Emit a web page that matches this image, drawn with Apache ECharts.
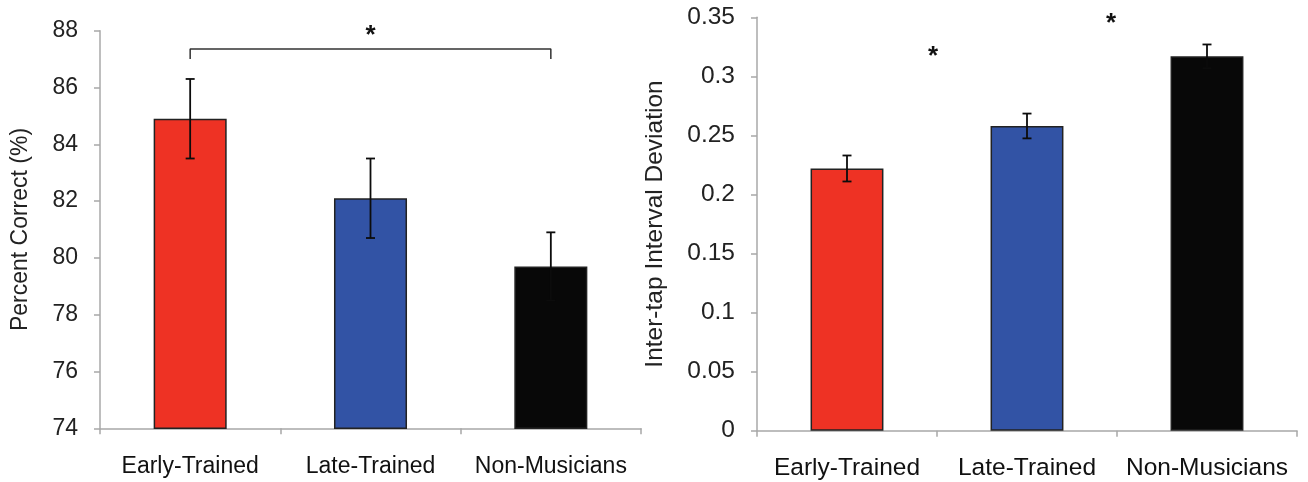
<!DOCTYPE html>
<html>
<head>
<meta charset="utf-8">
<style>
  html, body { margin: 0; padding: 0; background: #fff; }
  #chart { width: 1308px; height: 482px; }
</style>
<script src="https://cdn.jsdelivr.net/npm/echarts@6/dist/echarts.min.js"></script>
</head>
<body>
<div id="chart"></div>
<script>
// Groups shown on both panels
const categories = ['Early-Trained', 'Late-Trained', 'Non-Musicians'];
const barColors = ['#EE3224', '#3253A5', '#080808'];

// Left panel: percent correct (mean and standard error)
const accuracyMean = [84.9, 82.1, 79.7];
const accuracyErr = [1.4, 1.4, 1.2];

// Right panel: inter-tap interval deviation (mean and standard error)
const itiMean = [0.222, 0.258, 0.317];
const itiErr = [0.011, 0.0105, 0.010];

// Significance markers, placed on a 0..3 overlay axis (category i spans i..i+1)
const accuracyBracket = [[0.5, 87.0], [0.5, 87.36], [2.5, 87.36], [2.5, 87.0]];
const accuracyStars = [[1.5, 88.05]];
const itiStars = [[0.978, 0.3224], [1.967, 0.3505]];

const FONT = 'Liberation Sans, Arial, Helvetica, sans-serif';
const AXIS_GRAY = '#a8a8a8';
const LEFT_FONT = 23;
const RIGHT_FONT = 24.5;

const chart = echarts.init(document.getElementById('chart'), null, { renderer: 'canvas' });

function errorBarSeries(xAxisIndex, yAxisIndex, mean, err) {
  return {
    type: 'custom',
    xAxisIndex, yAxisIndex, z: 3,
    data: mean.map((m, i) => [i, m - err[i], m + err[i]]),
    renderItem(params, api) {
      const lo = api.coord([api.value(0), api.value(1)]);
      const hi = api.coord([api.value(0), api.value(2)]);
      const cap = 4.5;
      const style = { stroke: '#0c0c0c', lineWidth: 1.8 };
      return {
        type: 'group',
        children: [
          { type: 'line', shape: { x1: hi[0], y1: hi[1], x2: lo[0], y2: lo[1] }, style },
          { type: 'line', shape: { x1: hi[0] - cap, y1: hi[1], x2: hi[0] + cap, y2: hi[1] }, style },
          { type: 'line', shape: { x1: lo[0] - cap, y1: lo[1], x2: lo[0] + cap, y2: lo[1] }, style }
        ]
      };
    }
  };
}

function barSeries(xAxisIndex, yAxisIndex, mean) {
  return {
    type: 'bar',
    xAxisIndex, yAxisIndex,
    barWidth: '40.5%',
    data: mean.map((v, i) => ({
      value: v,
      itemStyle: { color: barColors[i], borderColor: '#222', borderWidth: 1.5 }
    })),
    z: 2
  };
}

// Asterisks drawn as text centred on their data point
function starSeries(xAxisIndex, yAxisIndex, points) {
  return {
    type: 'custom',
    xAxisIndex, yAxisIndex, z: 5,
    clip: false,
    data: points,
    renderItem(params, api) {
      const p = api.coord([api.value(0), api.value(1)]);
      return {
        type: 'text',
        x: p[0], y: p[1] + 7,
        style: {
          text: '*', fill: '#111',
          font: 'bold 26px ' + FONT,
          align: 'center', verticalAlign: 'middle'
        }
      };
    }
  };
}

function valueLabel(size) {
  return { color: '#222', fontFamily: FONT, fontSize: size, margin: 22 };
}

function catAxis(gridIndex, size, margin) {
  return {
    type: 'category', gridIndex, data: categories,
    axisLine: { lineStyle: { color: AXIS_GRAY, width: 1.5 } },
    axisTick: { show: true, length: 6, lineStyle: { color: AXIS_GRAY, width: 1.5 } },
    axisLabel: {
      color: '#111', fontFamily: FONT, fontSize: size, margin,
      interval: 0, hideOverlap: false
    }
  };
}

const option = {
  animation: false,
  backgroundColor: '#fff',
  grid: [
    { left: 100, top: 30.7, width: 541, height: 397.6 },
    { left: 757, top: 17.3, width: 540, height: 413.4 }
  ],
  xAxis: [
    catAxis(0, LEFT_FONT, 27),
    catAxis(1, RIGHT_FONT, 25),
    { type: 'value', gridIndex: 0, min: 0, max: 3, show: false },
    { type: 'value', gridIndex: 1, min: 0, max: 3, show: false }
  ],
  yAxis: [
    {
      type: 'value', gridIndex: 0, min: 74, max: 88, interval: 2,
      name: 'Percent Correct (%)', nameLocation: 'middle', nameGap: 68,
      nameTextStyle: { color: '#222', fontFamily: FONT, fontSize: LEFT_FONT },
      axisLine: { show: true, lineStyle: { color: AXIS_GRAY, width: 1.5 } },
      axisTick: { show: true, length: 6, lineStyle: { color: AXIS_GRAY, width: 1.5 } },
      axisLabel: valueLabel(LEFT_FONT),
      splitLine: { show: false }
    },
    {
      type: 'value', gridIndex: 1, min: 0, max: 0.35, interval: 0.05,
      name: 'Inter-tap Interval Deviation', nameLocation: 'middle', nameGap: 89,
      nameTextStyle: { color: '#222', fontFamily: FONT, fontSize: RIGHT_FONT },
      axisLine: { show: true, lineStyle: { color: AXIS_GRAY, width: 1.5 } },
      axisTick: { show: true, length: 6, lineStyle: { color: AXIS_GRAY, width: 1.5 } },
      axisLabel: Object.assign(valueLabel(RIGHT_FONT), {
        formatter: v => String(parseFloat(v.toFixed(2)))
      }),
      splitLine: { show: false }
    }
  ],
  series: [
    barSeries(0, 0, accuracyMean),
    errorBarSeries(0, 0, accuracyMean, accuracyErr),
    barSeries(1, 1, itiMean),
    errorBarSeries(1, 1, itiMean, itiErr),
    {
      type: 'line',
      xAxisIndex: 2, yAxisIndex: 0,
      data: accuracyBracket,
      symbol: 'none',
      clip: false,
      lineStyle: { color: '#333', width: 1.5 },
      z: 4
    },
    starSeries(2, 0, accuracyStars),
    starSeries(3, 1, itiStars)
  ]
};

chart.setOption(option);
</script>
</body>
</html>
